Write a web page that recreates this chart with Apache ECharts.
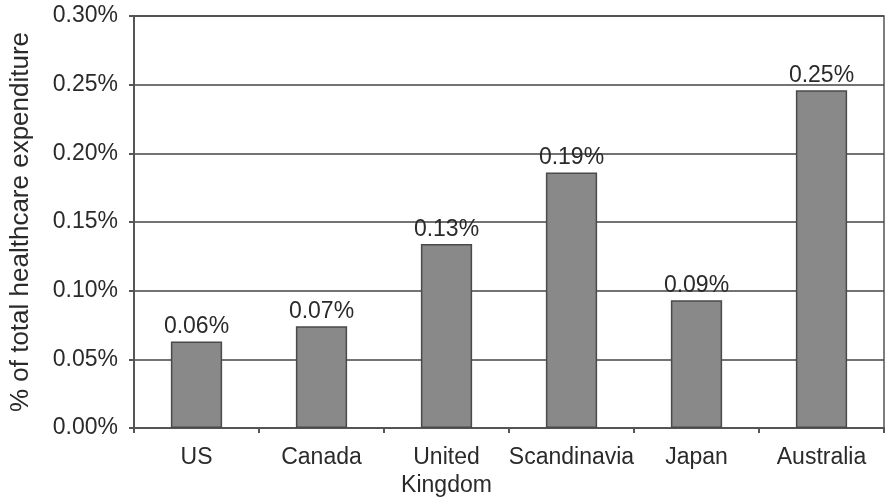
<!DOCTYPE html>
<html>
<head>
<meta charset="utf-8">
<script src="https://cdn.jsdelivr.net/npm/echarts@6/dist/echarts.min.js"></script>
<style>
    html, body { margin: 0; padding: 0; background: #fff; }
    #chart { width: 886px; height: 498px; }
</style>
</head>
<body>
<div id="chart"></div>
<script>
// data
const regions = ['US', 'Canada', 'United\nKingdom', 'Scandinavia', 'Japan', 'Australia']
const shares = [0.063, 0.074, 0.134, 0.186, 0.093, 0.246]
const yTicks = [0, 0.05, 0.10, 0.15, 0.20, 0.25, 0.30]

let myChart = echarts.init(document.getElementById('chart'))
let font = 'Liberation Sans, Arial, sans-serif'
let option = {
    animation: false,
    grid: {
        left: 134, right: 2, top: 16, bottom: 70,
        outerBoundsMode: 'none', containLabel: false,
        show: true, borderColor: '#555', borderWidth: 1.5
    },
    xAxis: {
        type: 'category',
        data: regions,
        axisLine: { lineStyle: { color: '#555', width: 2 } },
        axisTick: { show: true, length: 5, lineStyle: { color: '#555', width: 2 } },
        axisLabel: { color: '#2a2a2a', fontSize: 23, fontFamily: font, margin: 16, lineHeight: 28, interval: 0 }
    },
    yAxis: {
        type: 'value',
        min: yTicks[0],
        max: yTicks[yTicks.length - 1],
        interval: 0.05,
        name: '% of total healthcare expenditure',
        nameLocation: 'middle',
        nameGap: 100,
        nameTextStyle: { color: '#2a2a2a', fontSize: 26, fontFamily: font },
        axisLine: { show: true, lineStyle: { color: '#555', width: 2 } },
        axisTick: { show: true, length: 5, lineStyle: { color: '#555', width: 2 } },
        axisLabel: {
            color: '#2a2a2a', fontSize: 23, fontFamily: font, margin: 16,
            formatter: v => v.toFixed(2) + '%'
        },
        splitLine: { lineStyle: { color: '#444', width: 1.5 } }
    },
    series: [{
        type: 'bar',
        data: shares,
        barWidth: '41%',
        itemStyle: { color: '#898989', borderColor: '#4a4a4a', borderWidth: 1.5 },
        label: {
            show: true,
            position: 'top',
            distance: 3,
            color: '#2a2a2a',
            fontSize: 23,
            fontFamily: font,
            formatter: p => p.value.toFixed(2) + '%'
        }
    }]
}
myChart.setOption(option)
</script>
</body>
</html>
